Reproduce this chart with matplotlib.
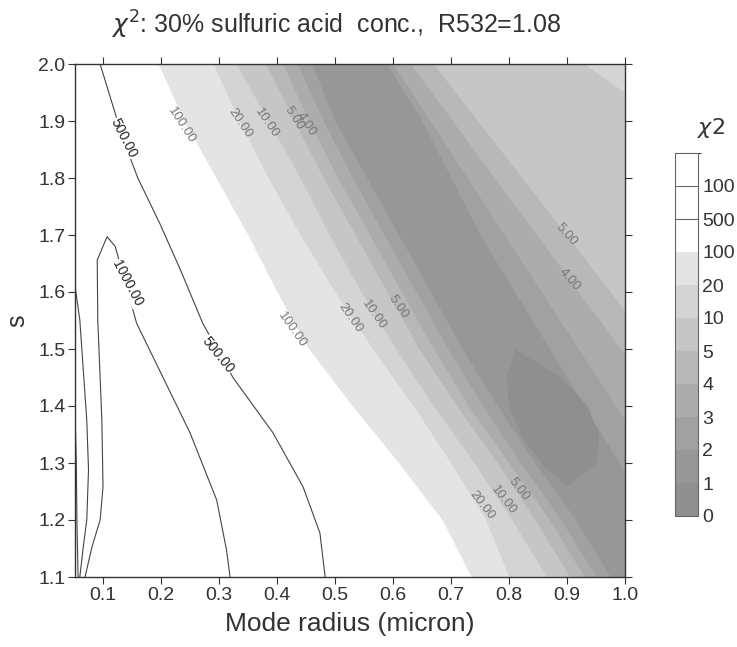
import numpy as np
import matplotlib.pyplot as plt
import matplotlib as mpl

plt.rcParams['font.family'] = ['Liberation Sans', 'DejaVu Sans']

title = r"$\chi^2$: 30% sulfuric acid  conc.,  R532=1.08"

# chi2 levels of the filled bands (region where chi2 < level) and their grey shades
levels = [100, 20, 10, 5, 4, 3, 2, 1]
shades = ["#e4e4e4", "#d4d4d4", "#c6c6c6", "#b8b8b8", "#acacac", "#a1a1a1", "#979797", "#8f8f8f"]

# band edges: s rows, left edge x, right edge x (x > 1 is off the chart)
s_rows = [1.1, 1.2, 1.3, 1.4, 1.5, 1.6, 1.7, 1.8, 1.9, 2.0]
lo_100 = [0.735, 0.685, 0.61, 0.53, 0.455, 0.40, 0.35, 0.295, 0.24, 0.195]
hi_100 = [1.1, 1.1, 1.1, 1.1, 1.1, 1.1, 1.1, 1.1, 1.1, 1.1]
lo_20 = [0.80, 0.76, 0.70, 0.635, 0.565, 0.50, 0.44, 0.385, 0.335, 0.29]
hi_20 = [1.1, 1.1, 1.1, 1.1, 1.1, 1.1, 1.1, 1.1, 1.1, 1.1]
lo_10 = [0.865, 0.805, 0.74, 0.67, 0.605, 0.545, 0.49, 0.44, 0.385, 0.33]
hi_10 = [1.1, 1.1, 1.1, 1.1, 1.1, 1.1, 1.1, 1.1, 1.07, 0.93]
lo_5 = [0.905, 0.845, 0.78, 0.71, 0.645, 0.59, 0.535, 0.48, 0.43, 0.38]
hi_5 = [1.1, 1.1, 1.1, 1.1, 1.05, 0.975, 0.899, 0.823, 0.746, 0.67]
lo_4 = [0.93, 0.87, 0.80, 0.73, 0.67, 0.615, 0.56, 0.505, 0.455, 0.41]
hi_4 = [1.1, 1.1, 1.1, 1.07, 0.993, 0.92, 0.848, 0.775, 0.703, 0.63]
lo_3 = [0.95, 0.89, 0.82, 0.755, 0.695, 0.64, 0.585, 0.53, 0.48, 0.435]
hi_3 = [1.1, 1.1, 1.05, 0.984, 0.92, 0.856, 0.792, 0.728, 0.664, 0.60]
lo_2 = [0.975, 0.915, 0.845, 0.78, 0.72, 0.665, 0.61, 0.555, 0.50, 0.46]
hi_2 = [1.1, 1.05, 0.99, 0.93, 0.87, 0.81, 0.75, 0.70, 0.65, 0.59]
s_1 = [1.26, 1.3, 1.35, 1.4, 1.45, 1.5]
lo_1 = [0.90, 0.855, 0.82, 0.80, 0.795, 0.81]
hi_1 = [0.90, 0.95, 0.955, 0.935, 0.89, 0.81]

band_s = [s_rows] * 7 + [s_1]
band_lo = [lo_100, lo_20, lo_10, lo_5, lo_4, lo_3, lo_2, lo_1]
band_hi = [hi_100, hi_20, hi_10, hi_5, hi_4, hi_3, hi_2, hi_1]

# drawn contour lines in the white (chi2 > 100) part
x_500 = [0.095, 0.134, 0.16, 0.198, 0.233, 0.272, 0.324, 0.393, 0.445, 0.474, 0.483]
s_500 = [2.0, 1.87, 1.80, 1.72, 1.64, 1.545, 1.45, 1.353, 1.258, 1.177, 1.1]
x_1000 = [0.069, 0.081, 0.095, 0.10, 0.098, 0.091, 0.09, 0.107, 0.121, 0.158, 0.25, 0.296, 0.313, 0.319]
s_1000 = [1.1, 1.153, 1.2, 1.258, 1.375, 1.55, 1.656, 1.697, 1.68, 1.545, 1.353, 1.235, 1.147, 1.1]
x_outer = [0.052, 0.06, 0.066, 0.072, 0.075, 0.072, 0.066, 0.06]
s_outer = [1.609, 1.551, 1.463, 1.375, 1.288, 1.2, 1.153, 1.1]
x_inner = [0.052, 0.054, 0.055, 0.056, 0.057]
s_inner = [1.38, 1.3, 1.2, 1.15, 1.1]

# contour labels: value, x, s, rotation
line_labels = [(500, 0.136, 1.87, -63), (1000, 0.142, 1.615, -62), (500, 0.298, 1.489, -51)]
band_labels = [(100, 0.236, 1.893, -57), (20, 0.336, 1.896, -56), (10, 0.382, 1.897, -56),
               (5, 0.429, 1.905, -57), (4, 0.451, 1.895, -57),
               (100, 0.426, 1.533, -55), (20, 0.526, 1.554, -55), (10, 0.567, 1.56, -55),
               (5, 0.609, 1.574, -55),
               (20, 0.753, 1.226, -52), (10, 0.79, 1.235, -52), (5, 0.816, 1.253, -52),
               (5, 0.899, 1.70, -48), (4, 0.905, 1.621, -48)]

# colour bar
cb_bounds = [0, 1, 2, 3, 4, 5, 10, 20, 100, 500, 1000, 5000]
cb_labels = ["0", "1", "2", "3", "4", "5", "10", "20", "100", "500", "100"]
cb_colors = shades[::-1] + ["white", "white", "white"]

fig = plt.figure(figsize=(7.37, 6.47), dpi=100)
ax = fig.add_axes([75 / 737, 70 / 647, 550 / 737, 513 / 647])

for s, lo, hi, c in zip(band_s, band_lo, band_hi, shades):
    ax.fill_betweenx(s, lo, hi, color=c, lw=0)

for xs, ss in [(x_500, s_500), (x_1000, s_1000), (x_outer, s_outer), (x_inner, s_inner)]:
    ax.plot(xs, ss, color="#444444", lw=0.8)

for v, x, s, r in line_labels:
    ax.text(x, s, "%.2f" % v, rotation=r, fontsize=10, color="#222222", ha="center", va="center",
            rotation_mode="anchor", bbox=dict(facecolor="white", edgecolor="none", pad=0.3))
for v, x, s, r in band_labels:
    ax.text(x, s, "%.2f" % v, rotation=r, fontsize=9.5, color="#777777", ha="center", va="center",
            rotation_mode="anchor")

ax.set_xlim(0.0517, 1.0)
ax.set_ylim(1.1, 2.0)
ax.set_xticks(np.arange(0.1, 1.01, 0.1))
ax.set_xticklabels(["%.1f" % t for t in np.arange(0.1, 1.01, 0.1)])
ax.set_yticks(np.arange(1.1, 2.01, 0.1))
ax.set_yticklabels(["%.1f" % t for t in np.arange(1.1, 2.01, 0.1)])
ax.tick_params(direction="out", length=5, width=0.8, labelsize=14, colors="#333333",
               top=True, right=True, labeltop=False, labelright=False, pad=2)
for sp in ax.spines.values():
    sp.set_color("#333333")
    sp.set_linewidth(1.0)
ax.set_xlabel("Mode radius (micron)", fontsize=19, color="#333333", labelpad=6)
ax.set_ylabel("s", fontsize=18, color="#333333", rotation=90, va="center")
ax.yaxis.set_label_coords(-0.105, 0.5)

fig.text(336 / 737, 1 - 25 / 647, title, fontsize=18, ha="center", va="center", color="#333333")

cax = fig.add_axes([675 / 737, 131 / 647, 23 / 737, 363 / 647])
cmap = mpl.colors.ListedColormap(cb_colors)
norm = mpl.colors.BoundaryNorm(cb_bounds, cmap.N)
cb = fig.colorbar(mpl.cm.ScalarMappable(norm=norm, cmap=cmap), cax=cax, spacing="uniform",
                  ticks=cb_bounds[:-1])
cb.ax.set_yticklabels(cb_labels)
cb.ax.tick_params(length=0, labelsize=14, colors="#333333", pad=3)
cb.outline.set_edgecolor("#666666")
cb.outline.set_linewidth(0.8)
for b in [500, 1000]:
    cb.ax.axhline(b, color="#666666", lw=0.8)
fig.text(711 / 737, 1 - 128 / 647, r"$\chi2$", fontsize=16, ha="center", va="center", color="#333333")

fig.savefig("out.png", dpi=100)
